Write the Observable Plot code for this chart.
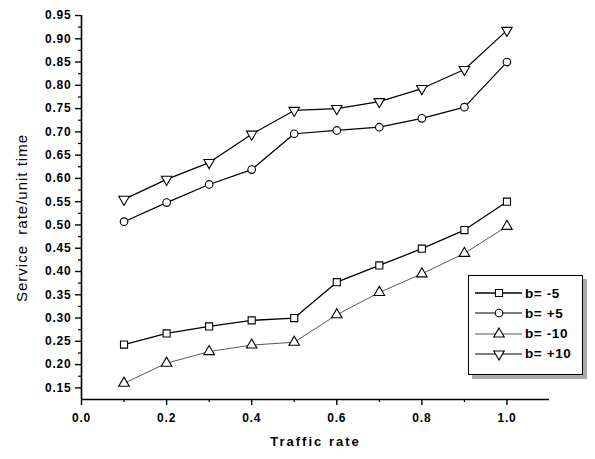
<!DOCTYPE html>
<html>
<head>
<meta charset="utf-8">
<script src="https://cdn.jsdelivr.net/npm/d3@7"></script>
<script src="https://cdn.jsdelivr.net/npm/@observablehq/plot@0.6"></script>
<style>
  html, body { margin: 0; padding: 0; background: #fff; }
  #wrap { position: relative; width: 595px; height: 459px; }
  #legend {
    position: absolute; left: 468px; top: 275px; width: 113px; height: 98px;
    border: 1.5px solid #000; background: #fff; box-shadow: 4px 4px 0 #aaa;
    font-family: "Liberation Sans", Arial, sans-serif; font-weight: bold; font-size: 13.5px;
    letter-spacing: 0.6px;
  }
  .row { position: absolute; left: 6px; height: 18px; display: flex; align-items: center; }
  .row svg { display: block; }
  .row span { margin-left: 3px; }
</style>
</head>
<body>
<div id="wrap"><div id="legend"></div></div>
<script>
// ---- data ----
const trafficRate = [0.1, 0.2, 0.3, 0.4, 0.5, 0.6, 0.7, 0.8, 0.9, 1.0];
const bMinus5  = [0.243, 0.267, 0.282, 0.295, 0.300, 0.377, 0.413, 0.449, 0.489, 0.550];
const bPlus5   = [0.507, 0.548, 0.587, 0.619, 0.696, 0.703, 0.710, 0.729, 0.753, 0.850];
const bMinus10 = [0.160, 0.203, 0.228, 0.242, 0.248, 0.307, 0.355, 0.395, 0.439, 0.497];
const bPlus10  = [0.555, 0.598, 0.634, 0.695, 0.746, 0.750, 0.765, 0.793, 0.834, 0.918];
const seriesNames = ["b= -5", "b= +5", "b= -10", "b= +10"];
const seriesValues = [bMinus5, bPlus5, bMinus10, bPlus10];
const yTicks = [0.15, 0.20, 0.25, 0.30, 0.35, 0.40, 0.45, 0.50, 0.55, 0.60, 0.65, 0.70, 0.75, 0.80, 0.85, 0.90, 0.95];
const yMinorTicks = [0.175, 0.225, 0.275, 0.325, 0.375, 0.425, 0.475, 0.525, 0.575, 0.625, 0.675, 0.725, 0.775, 0.825, 0.875, 0.925];
const xTicks = [0.0, 0.2, 0.4, 0.6, 0.8, 1.0];
const xMinorTicks = [0.1, 0.3, 0.5, 0.7, 0.9];
const xDomain = [0, 1.1];
const yDomain = [0.125, 0.95];
const yTitle = "Service\u00a0\u00a0rate/unit time";
const xTitle = "Traffic rate";

// ---- styles per series ----
const styles = [
  {symbol: "square",   r: 4.0, rotate: 0,   stroke: "#000", sw: 1.3},
  {symbol: "circle",   r: 3.8, rotate: 0,   stroke: "#000", sw: 1.2},
  {symbol: "triangle", r: 3.9, rotate: 0,   stroke: "#444", sw: 0.9},
  {symbol: "triangle", r: 3.9, rotate: 180, stroke: "#000", sw: 1.2}
];

const rows = [];
seriesNames.forEach((name, i) => {
  trafficRate.forEach((x, j) => rows.push({series: name, idx: i, x, y: seriesValues[i][j]}));
});

const marks = [];
seriesNames.forEach((name, i) => {
  const d = rows.filter(r => r.idx === i);
  const s = styles[i];
  marks.push(Plot.line(d, {x: "x", y: "y", stroke: s.stroke, strokeWidth: s.sw}));
});
seriesNames.forEach((name, i) => {
  const d = rows.filter(r => r.idx === i);
  const s = styles[i];
  marks.push(Plot.dot(d, {x: "x", y: "y", symbol: s.symbol, r: s.r, rotate: s.rotate,
    fill: "#fff", stroke: "#000", strokeWidth: 1.1}));
});

const chart = Plot.plot({
  width: 595,
  height: 459,
  marginLeft: 81,
  marginRight: 46,
  marginTop: 15,
  marginBottom: 60,
  style: {fontFamily: "Liberation Sans, Arial, sans-serif", background: "#fff", color: "#000"},
  x: {domain: xDomain},
  y: {domain: yDomain},
  marks: [
    Plot.axisY({ticks: yMinorTicks, tickSize: 3, tickFormat: () => "", label: null, strokeWidth: 1.2}),
    Plot.axisY({ticks: yTicks, tickSize: 6, tickPadding: 4, tickFormat: d3.format(".2f"),
      fontSize: 12, fontWeight: "bold", strokeWidth: 1.4, label: null}),
    Plot.axisY({ticks: [], tickSize: 0, label: yTitle, labelAnchor: "center", labelArrow: "none",
      labelOffset: 66, fontSize: 14, fontWeight: "normal"}),
    Plot.axisX({ticks: xMinorTicks, tickSize: 3, tickFormat: () => "", label: null, strokeWidth: 1.2}),
    Plot.axisX({ticks: xTicks, tickSize: 6, tickPadding: 8, tickFormat: d3.format(".1f"),
      fontSize: 12, fontWeight: "bold", strokeWidth: 1.4,
      label: xTitle, labelAnchor: "center", labelArrow: "none", labelOffset: 46}),
    Plot.ruleX([xDomain[0]], {strokeWidth: 1.6}),
    Plot.ruleY([yDomain[0]], {strokeWidth: 1.6}),
    ...marks
  ]
});
document.getElementById("wrap").prepend(chart);

// tick label letter spacing
chart.querySelectorAll("g[aria-label='y-axis tick label'] text, g[aria-label='x-axis tick label'] text").forEach(t => {
  t.setAttribute("letter-spacing", "0.8");
});
// style & place y-axis title
chart.querySelectorAll("g[aria-label='y-axis label']").forEach(g => {
  g.removeAttribute("transform");
  g.querySelectorAll("text").forEach(t => {
    t.style.fontSize = "15px"; t.style.fontWeight = "normal";
    t.setAttribute("letter-spacing", "1");
    t.removeAttribute("x"); t.removeAttribute("y"); t.removeAttribute("dx");
    t.setAttribute("text-anchor", "middle");
    t.setAttribute("dy", "0.35em");
    t.setAttribute("transform", "translate(22,218) rotate(-90)");
  });
});
chart.querySelectorAll("g[aria-label='x-axis label'] text").forEach(t => {
  t.style.fontSize = "13px"; t.style.fontWeight = "bold";
  t.setAttribute("letter-spacing", "2");
});

// ---- legend ----
const legend = document.getElementById("legend");
const symPath = {
  square: d3.symbol(d3.symbolSquare, Math.PI * 4 * 4)(),
  circle: d3.symbol(d3.symbolCircle, Math.PI * 3.8 * 3.8)(),
  triangle: d3.symbol(d3.symbolTriangle, Math.PI * 3.9 * 3.9)()
};
seriesNames.forEach((name, i) => {
  const s = styles[i];
  const row = document.createElement("div");
  row.className = "row";
  row.style.top = (8 + i * 20.3) + "px";
  row.innerHTML = `<svg width="47" height="16"><line x1="0" x2="47" y1="8" y2="8" stroke="${s.stroke}" stroke-width="${s.sw}"/>` +
    `<path d="${symPath[s.symbol]}" transform="translate(24,8) rotate(${s.rotate})" fill="#fff" stroke="#000" stroke-width="1.1"/></svg>` +
    `<span>${name}</span>`;
  legend.appendChild(row);
});
</script>
</body>
</html>
